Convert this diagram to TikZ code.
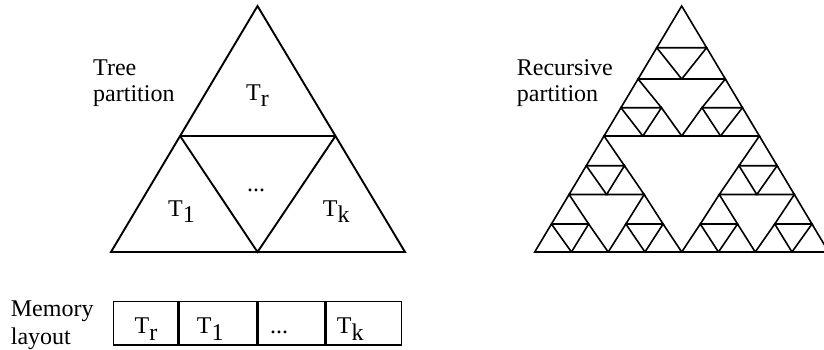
\documentclass[tikz,border=0pt]{standalone}
\usepackage{fontspec}
\setmainfont{Liberation Serif}
\usetikzlibrary{calc}
\newcommand\Tsb[1]{T\raisebox{-6.5pt}{#1}}
\begin{document}
\begin{tikzpicture}[x=1pt,y=-1pt,
  tri/.style={line width=1.9pt, line join=miter},
  sier/.style={line width=1.6pt, line join=miter},
  lbl/.style={anchor=base west, inner sep=0pt, font=\fontsize{24}{28}\selectfont},
  clbl/.style={anchor=base, inner sep=0pt, font=\fontsize{24}{28}\selectfont},
  cell/.style={draw, line width=1.4pt, inner sep=0pt, minimum height=43.3pt, anchor=west}]
\useasboundingbox (0,0) rectangle (824,349);

% ---------- left: tree partition ----------
\coordinate (A) at (257.5,6);
\coordinate (BL) at (111,252);
\coordinate (BR) at (405,252);
\coordinate (BM) at (257.5,252);
\coordinate (ML) at ($(A)!0.5285!(BL)$);
\coordinate (MR) at ($(A)!0.5285!(BR)$);
\draw[tri] (A) -- (BL) -- (BR) -- cycle;
\draw[tri] (ML) -- (MR);
\draw[tri] (ML) -- (BM) -- (MR);

\node[lbl] (tree1) at (93,75) {Tree};
\node[lbl] (tree2) at (93,101.7) {partition};
\node[lbl] (tr) at (246,100) {\Tsb{r}};
\node[lbl] (t1) at (168,216) {\Tsb{1}};
\node[lbl] (tk) at (322.7,216) {\Tsb{k}};
\node[clbl] (tdots) at (256,191) {...};

% ---------- right: recursive partition ----------
\def\cx{681.7}
\coordinate (p-0-0) at (\cx,6);
\foreach \i/\y in {1/47.7,2/79,3/107.7,4/136,5/165.7,6/194.5,7/224,8/252} {
  \foreach \j in {0,...,\i} {
    \pgfmathsetmacro\hw{(\y-6)/246*147}
    \pgfmathsetmacro\xx{\cx + (2*\j-\i)/\i*\hw}
    \coordinate (p-\i-\j) at (\xx,\y);
  }
}
\foreach \i/\j in {0/0,1/0,1/1,2/0,2/2,3/0,3/1,3/2,3/3,4/0,4/4,5/0,5/1,5/4,5/5,
                   6/0,6/2,6/4,6/6,7/0,7/1,7/2,7/3,7/4,7/5,7/6,7/7} {
  \pgfmathtruncatemacro\n{\i+1}
  \pgfmathtruncatemacro\m{\j+1}
  \draw[sier] (p-\i-\j) -- (p-\n-\j) -- (p-\n-\m) -- cycle;
}
\node[lbl] (rec1) at (516.7,75) {Recursive};
\node[lbl] (rec2) at (516.7,101.7) {partition};

% ---------- memory layout ----------
\node[lbl] (mem1) at (10.7,316.7) {Memory};
\node[lbl] (mem2) at (10.7,344) {layout};
\node[cell, minimum width=64pt] (m1) at (112.7,323.35) {};
\node[cell, minimum width=78.3pt] (m2) at (m1.east) {};
\node[cell, minimum width=66pt] (m3) at (m2.east) {};
\node[cell, minimum width=75.7pt] (m4) at (m3.east) {};
\node[lbl] (c1) at (134.5,333.5) {\Tsb{r}};
\node[lbl] (c2) at (196.7,333.5) {\Tsb{1}};
\node[clbl] (c3) at (279,333.5) {...};
\node[lbl] (c4) at (336.7,333.5) {\Tsb{k}};
\end{tikzpicture}
\end{document}
